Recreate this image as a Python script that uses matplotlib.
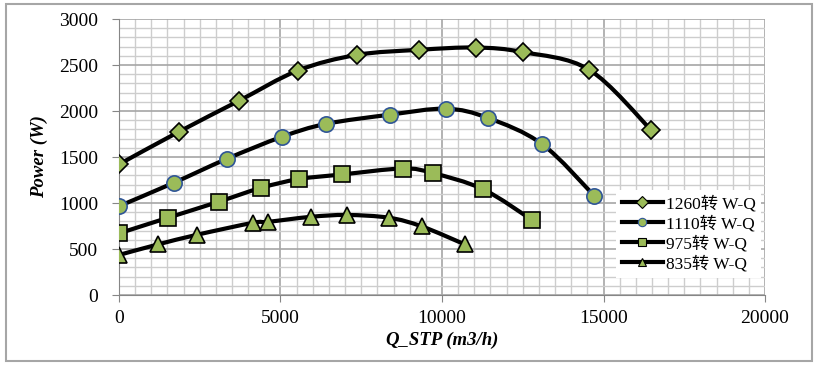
import numpy as np
import matplotlib
matplotlib.use("Agg")
from matplotlib import pyplot as plt
from matplotlib.path import Path
from matplotlib.patches import PathPatch, Rectangle
from matplotlib.lines import Line2D
from matplotlib.ticker import MultipleLocator

# values
q_1260 = [0, 1860, 3710, 5540, 7370, 9290, 11050, 12510, 14550, 16470]
p_1260 = [1420, 1775, 2110, 2440, 2610, 2665, 2690, 2640, 2450, 1795]
q_1110 = [0, 1700, 3340, 5050, 6410, 8390, 10120, 11420, 13100, 14710]
p_1110 = [965, 1220, 1480, 1720, 1860, 1960, 2025, 1925, 1640, 1080]
q_975 = [0, 1520, 3100, 4400, 5570, 6900, 8790, 9720, 11270, 12790]
p_975 = [670, 840, 1015, 1165, 1260, 1310, 1375, 1325, 1150, 815]
q_835 = [0, 1210, 2420, 4150, 4610, 5940, 7060, 8360, 9380, 10710]
p_835 = [435, 550, 655, 785, 795, 850, 870, 840, 745, 550]

labels = ["1260转 W-Q", "1110转 W-Q", "975转 W-Q", "835转 W-Q"]
markers = ["D", "o", "s", "^"]
msizes = [9, 11, 11.5, 12]
edges = ["black", "#2F5597", "black", "black"]
green = "#9BBB59"

serif = ["Liberation Serif", "Noto Sans CJK SC"]
plt.rcParams["font.family"] = serif


def smooth_path(x, y):
    # cubic bezier through all points (like Excel's smoothed line)
    pts = np.column_stack([x, y]).astype(float)
    n = len(pts)
    verts = [pts[0]]
    codes = [Path.MOVETO]
    for i in range(n - 1):
        p0 = pts[max(i - 1, 0)]
        p1 = pts[i]
        p2 = pts[i + 1]
        p3 = pts[min(i + 2, n - 1)]
        c1 = p1 + (p2 - p0) / 6.0
        c2 = p2 - (p3 - p1) / 6.0
        verts += [c1, c2, p2]
        codes += [Path.CURVE4] * 3
    return Path(verts, codes)


fig = plt.figure(figsize=(8.2, 3.69), dpi=100)
ax = fig.add_axes([0.145, 0.2005, 0.788, 0.748])

series = [(q_1260, p_1260), (q_1110, p_1110), (q_975, p_975), (q_835, p_835)]
handles = []
for (q, p), lab, mk, ms, ec in zip(series, labels, markers, msizes, edges):
    patch = PathPatch(smooth_path(q, p), facecolor="none", edgecolor="black",
                      lw=3, zorder=3, capstyle="round", joinstyle="round")
    ax.add_patch(patch)
    ax.plot(q, p, linestyle="none", marker=mk, markersize=ms,
            markerfacecolor=green, markeredgecolor=ec, markeredgewidth=1.2,
            zorder=4)
    handles.append(Line2D([], [], color="black", lw=3, marker=mk,
                          markersize=6, markerfacecolor=green,
                          markeredgecolor=ec, markeredgewidth=0.8))

ax.set_xlim(0, 20000)
ax.set_ylim(0, 3000)
ax.xaxis.set_major_locator(MultipleLocator(5000))
ax.xaxis.set_minor_locator(MultipleLocator(500))
ax.yaxis.set_major_locator(MultipleLocator(500))
ax.yaxis.set_minor_locator(MultipleLocator(100))
ax.grid(which="major", color="#A6A6A6", lw=1.2, zorder=0)
ax.grid(which="minor", color="#CDCDCD", lw=1.0, zorder=0)
ax.set_axisbelow(True)

for s in ["top", "right"]:
    ax.spines[s].set_visible(False)
for s in ["left", "bottom"]:
    ax.spines[s].set_color("#868686")
ax.tick_params(which="major", length=5, color="#868686", labelsize=14)
ax.tick_params(which="minor", length=0)
ax.tick_params(axis="x", pad=6)
ax.tick_params(axis="y", pad=10)

ax.set_xlabel("Q_STP (m3/h)", fontsize=13.5, fontweight="bold",
              fontstyle="italic", labelpad=3)
ax.set_ylabel("Power (W)", fontsize=13.5, fontweight="bold",
              fontstyle="italic", labelpad=8)

leg = ax.legend(handles, labels, loc="upper left",
                bbox_to_anchor=(0.77, 0.38), frameon=True,
                handlelength=2.4, handletextpad=0.15, labelspacing=0.2,
                borderpad=0.3, borderaxespad=0,
                prop={"family": serif, "size": 12.5})
leg.get_frame().set_facecolor("white")
leg.get_frame().set_edgecolor("none")
leg.get_frame().set_alpha(1)
leg.get_frame().set_boxstyle("square", pad=0)

fig.add_artist(Rectangle((0.007, 0.022), 0.983, 0.968, transform=fig.transFigure,
                         fill=False, edgecolor="#A6A6A6", lw=1.5))

fig.savefig("out.png", dpi=100)
